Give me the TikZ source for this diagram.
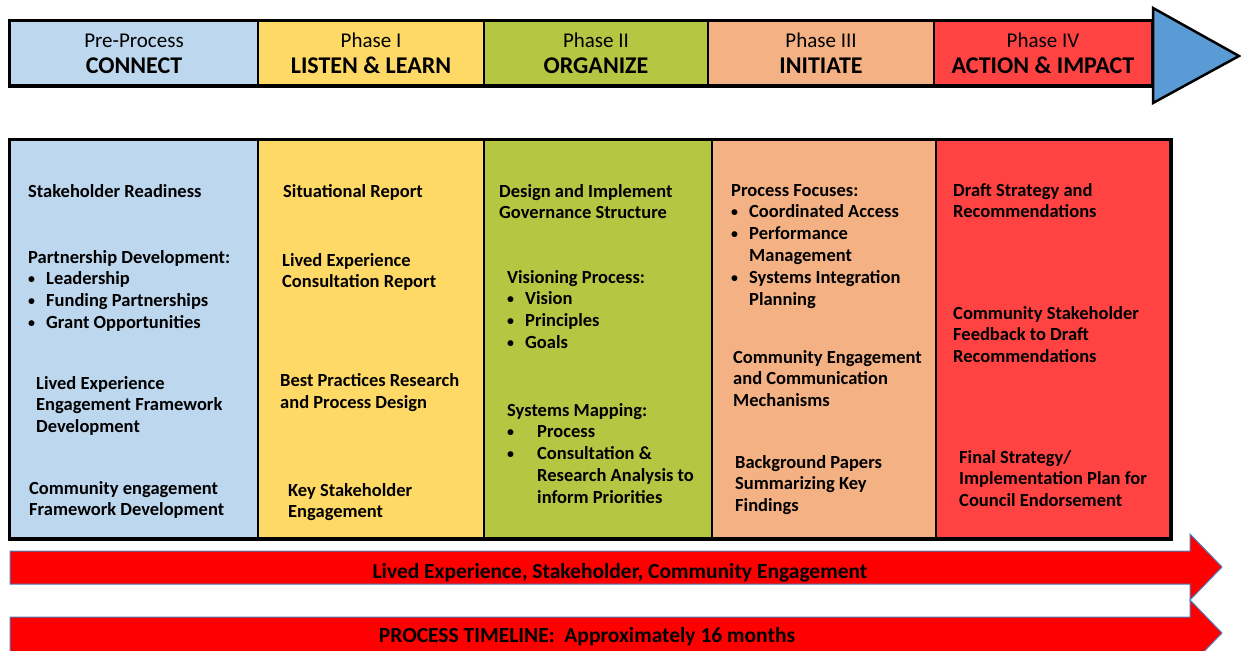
\documentclass[tikz,border=0pt]{standalone}
\usepackage{fontspec}
\setmainfont{Carlito}
\definecolor{preblue}{HTML}{BDD7EE}
\definecolor{phyellow}{HTML}{FFD966}
\definecolor{phgreen}{HTML}{B5C642}
\definecolor{phorange}{HTML}{F4B183}
\definecolor{phred}{HTML}{FF4343}
\definecolor{headblue}{HTML}{5B9BD5}
\definecolor{bandred}{HTML}{FF0000}
\definecolor{bandedge}{HTML}{4A7EBB}
\newcommand{\bul}[1][18pt]{\makebox[#1][l]{\raisebox{1pt}{\scalebox{0.75}{\textbullet}}}}
\newcommand{\phasename}[2]{{\fontsize{21}{26}\selectfont #1}\\{\fontsize{24}{26}\selectfont\bfseries #2}}
\tikzset{
	phasebox/.style={draw=black, line width=2pt, minimum height=64pt, inner sep=0pt, align=center, font=\fontsize{21}{26}\selectfont},
	colbox/.style={draw=black, line width=2pt, minimum height=398pt, inner sep=0pt},
	item/.style={anchor=north west, align=left, inner sep=0pt, font=\fontsize{18.5}{21.8}\selectfont\bfseries},
	band/.style={fill=bandred, draw=bandedge, line width=1pt},
	bandtext/.style={inner sep=0pt, font=\fontsize{21.5}{24}\selectfont\bfseries},
}
\begin{document}
\begin{tikzpicture}[x=1pt, y=-1pt]
	\clip (0,0) rectangle (1241,650);
	\fill[white] (0,0) rectangle (1241,650);

	% phase arrow
	\node[phasebox, fill=preblue, minimum width=248pt] (pre) at (134,53.5) {\phasename{Pre-Process}{CONNECT}};
	\node[phasebox, fill=phyellow, minimum width=226pt] (ph1) at (371,53.5) {\phasename{Phase I}{LISTEN \& LEARN}};
	\node[phasebox, fill=phgreen, minimum width=224pt] (ph2) at (596,53.5) {\phasename{Phase II}{ORGANIZE}};
	\node[phasebox, fill=phorange, minimum width=226pt] (ph3) at (821,53.5) {\phasename{Phase III}{INITIATE}};
	\node[phasebox, fill=phred, minimum width=218pt] (ph4) at (1043,53.5) {\phasename{Phase IV}{ACTION \& IMPACT}};
	\draw[line width=3pt] (pre.north west) rectangle (ph4.south east);
	\draw[fill=headblue, line width=2.5pt, line join=miter] (1153,8) -- (1239,56) -- (1153,103) -- cycle;

	% columns
	\node[colbox, fill=preblue, minimum width=248pt] (colpre) at (134,339) {};
	\node[colbox, fill=phyellow, minimum width=226pt] (col1) at (371,339) {};
	\node[colbox, fill=phgreen, minimum width=228pt] (col2) at (598,339) {};
	\node[colbox, fill=phorange, minimum width=224pt] (col3) at (824,339) {};
	\node[colbox, fill=phred, minimum width=234pt] (col4) at (1053,339) {};
	\draw[line width=3pt] (colpre.north west) rectangle (col4.south east);

	% pre-process
	\node[item] (s1) at (28,184) {Stakeholder Readiness};
	\node[item] (s2) at (28,250) {Partnership Development:\\\bul Leadership\\\bul Funding Partnerships\\\bul Grant Opportunities};
	\node[item] (s3) at (36,376) {Lived Experience\\Engagement Framework\\Development};
	\node[item] (s4) at (29,481) {Community engagement\\Framework Development};

	% phase I
	\node[item] (l1) at (283,184) {Situational Report};
	\node[item] (l2) at (282,253) {Lived Experience\\Consultation Report};
	\node[item] (l3) at (280,373) {Best Practices Research\\and Process Design};
	\node[item] (l4) at (288,483) {Key Stakeholder\\Engagement};

	% phase II
	\node[item] (o1) at (499,184) {Design and Implement\\Governance Structure};
	\node[item] (o2) at (507,270) {Visioning Process:\\\bul Vision\\\bul Principles\\\bul Goals};
	\node[item] (o3) at (507,403) {Systems Mapping:\\\bul[30pt]Process\\\bul[30pt]Consultation \&\\\hspace*{30pt}Research Analysis to\\\hspace*{30pt}inform Priorities};

	% phase III
	\node[item] (i1) at (731,184) {Process Focuses:\\\bul Coordinated Access\\\bul Performance\\\hspace*{18pt}Management\\\bul Systems Integration\\\hspace*{18pt}Planning};
	\node[item] (i2) at (733,350) {Community Engagement\\and Communication\\Mechanisms};
	\node[item] (i3) at (735,455) {Background Papers\\Summarizing Key\\Findings};

	% phase IV
	\node[item] (a1) at (953,183) {Draft Strategy and\\Recommendations};
	\node[item] (a2) at (953,306) {Community Stakeholder\\Feedback to Draft\\Recommendations};
	\node[item] (a3) at (959,450) {Final Strategy/\\Implementation Plan for\\Council Endorsement};

	% engagement and timeline bands
	\draw[band] (10,551) -- (1190,551) -- (1190,534) -- (1222,567) -- (1190,600) -- (1190,584) -- (10,584) -- cycle;
	\node[bandtext] (engage) at (620,573) {Lived Experience, Stakeholder, Community Engagement};
	\draw[band] (10,617) -- (1190,617) -- (1190,600) -- (1222,633) -- (1190,666) -- (1190,652) -- (10,652) -- cycle;
	\node[bandtext] (timeline) at (587,637) {PROCESS TIMELINE:\ \ Approximately 16 months};
\end{tikzpicture}
\end{document}
